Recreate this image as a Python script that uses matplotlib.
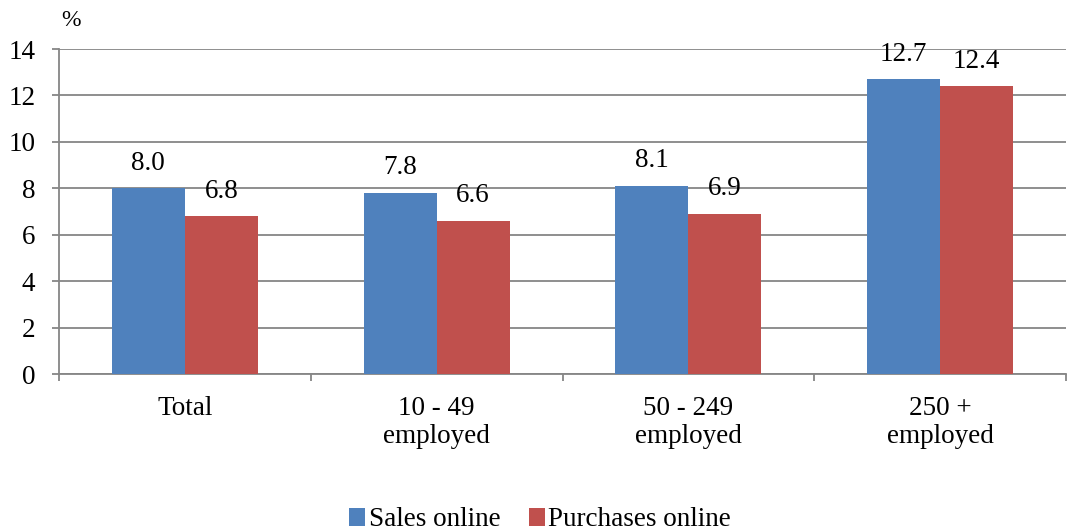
import matplotlib.pyplot as plt
import numpy as np

categories = ["Total", "10 - 49\nemployed", "50 - 249\nemployed", "250 +\nemployed"]
sales = [8.0, 7.8, 8.1, 12.7]
purchases = [6.8, 6.6, 6.9, 12.4]

plt.rcParams['font.family'] = ['Liberation Serif', 'DejaVu Serif']
plt.rcParams['font.size'] = 19.5

fig = plt.figure(figsize=(10.67, 5.31), dpi=100)
ax = fig.add_axes([59 / 1067, 1 - 374 / 531, 1007 / 1067, 325 / 531])

x = np.arange(len(categories))
w = 0.29
b1 = ax.bar(x - w / 2, sales, w, color='#4F81BD', label='Sales online', zorder=3)
b2 = ax.bar(x + w / 2, purchases, w, color='#C0504D', label='Purchases online', zorder=3)

# etiquetas de valor acima das barras
for bars, vals in ((b1, sales), (b2, purchases)):
    for r, v in zip(bars, vals):
        ax.annotate(f"{v:.1f}", (r.get_x() + r.get_width() / 2, r.get_height()),
                    xytext=(0, 9), textcoords='offset points', ha='center', va='bottom')

gray = '#868686'
ax.set_xlim(-0.5, 3.5)
ax.set_ylim(0, 14)
ax.set_yticks(range(0, 15, 2))
ax.grid(axis='y', color=gray, linewidth=1.3, zorder=0)
ax.set_axisbelow(True)

ax.set_xticks(x)
ax.set_xticklabels(categories, va='top', linespacing=1.15)
ax.tick_params(axis='x', length=0, pad=16)
ax.set_xticks(np.arange(-0.5, 3.6, 1), minor=True)
ax.tick_params(axis='x', which='minor', length=5, color=gray, width=1.3)
ax.tick_params(axis='y', length=5, color=gray, width=1.3, pad=12)

for s in ('top', 'right'):
    ax.spines[s].set_visible(False)
for s in ('left', 'bottom'):
    ax.spines[s].set_color(gray)
    ax.spines[s].set_linewidth(1.3)

fig.text(71 / 1067, 1 - 21 / 531, '%', ha='center', va='center', fontsize=17)

fig.legend(loc='center', bbox_to_anchor=(540 / 1067, 1 - 520 / 531), ncol=2, frameon=False,
           handlelength=0.6, handleheight=0.6, handletextpad=0.12, columnspacing=1.05)

fig.savefig('out.png', dpi=100)
